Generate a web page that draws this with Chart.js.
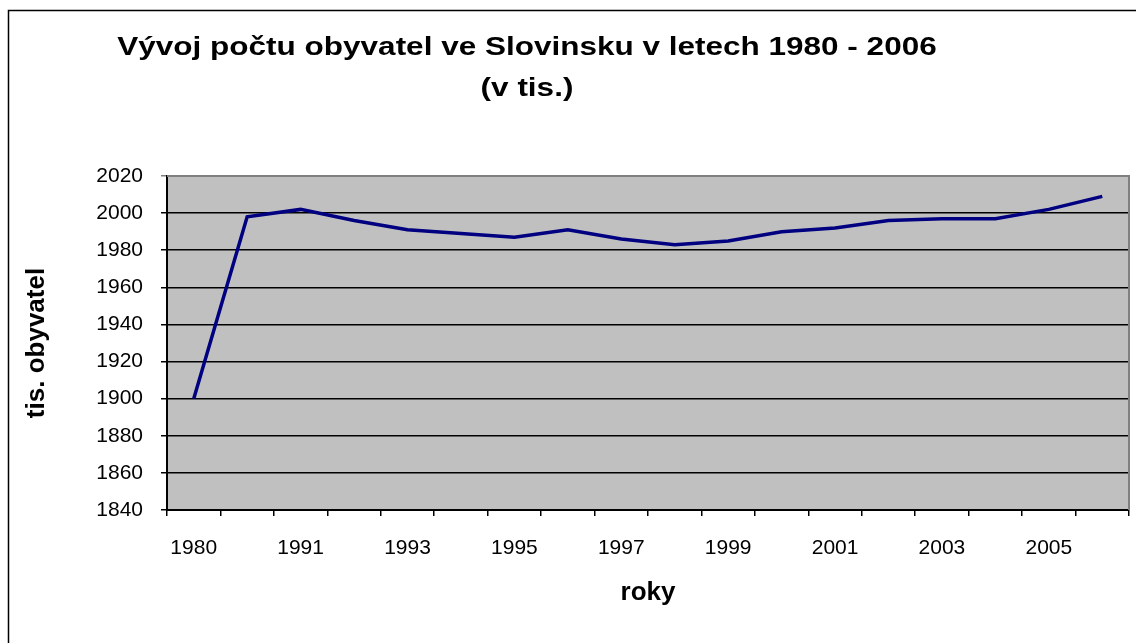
<!DOCTYPE html>
<html>
<head>
<meta charset="utf-8">
<script src="https://cdn.jsdelivr.net/npm/chart.js@4/dist/chart.umd.min.js"></script>
<style>
  html, body { margin: 0; padding: 0; background: #fff; }
  #wrap { width: 1136px; height: 643px; position: relative; }
</style>
</head>
<body>
<div id="wrap"><canvas id="lineChart"></canvas></div>
<script>
// Data
const years = ['1980', '1990', '1991', '1992', '1993', '1994', '1995', '1996', '1997',
               '1998', '1999', '2000', '2001', '2002', '2003', '2004', '2005', '2006'];
const population = [1900, 1998, 2002, 1996, 1991, 1989, 1987, 1991, 1986,
                    1983, 1985, 1990, 1992, 1996, 1997, 1997, 2002, 2009];
const titleLines = ['Vývoj počtu obyvatel ve Slovinsku v letech 1980 - 2006', '(v tis.)'];

const FONT = 'Arial, "Liberation Sans", sans-serif';

// Grey plot area, border, frame and title
const decor = {
    id: 'decor',
    beforeDraw(chart) {
        const { ctx, chartArea: a } = chart;
        ctx.save();
        ctx.fillStyle = '#fff';
        ctx.fillRect(0, 0, chart.width, chart.height);
        ctx.fillStyle = '#C0C0C0';
        ctx.fillRect(a.left, a.top, a.right - a.left, a.bottom - a.top);
        ctx.restore();
    },
    afterDraw(chart) {
        const { ctx, chartArea: a } = chart;
        ctx.save();
        // plot border top/right
        ctx.strokeStyle = '#808080';
        ctx.lineWidth = 2;
        ctx.beginPath();
        ctx.moveTo(a.left, a.top);
        ctx.lineTo(a.right, a.top);
        ctx.lineTo(a.right, a.bottom);
        ctx.stroke();
        // outer frame
        ctx.strokeStyle = '#000';
        ctx.lineWidth = 1.5;
        ctx.strokeRect(8.5, 10.5, 1140, 650);
        // title (the original is drawn a bit wide)
        ctx.fillStyle = '#000';
        ctx.font = 'bold 25px ' + FONT;
        ctx.textAlign = 'center';
        ctx.textBaseline = 'alphabetic';
        const baselines = [55, 96];
        titleLines.forEach((line, i) => {
            ctx.save();
            ctx.translate(527, baselines[i]);
            ctx.scale(1.26, 1);
            ctx.fillText(line, 0, 0);
            ctx.restore();
        });
        ctx.restore();
    }
};

const ctx = document.getElementById('lineChart').getContext('2d');
const lineChart = new Chart(ctx, {
    type: 'line',
    data: {
        labels: years,
        datasets: [{
            label: 'tis. obyvatel',
            data: population,
            borderColor: '#000080',
            borderWidth: 3.5,
            pointRadius: 0,
            tension: 0,
            fill: false
        }]
    },
    options: {
        responsive: true,
        maintainAspectRatio: false,
        animation: false,
        layout: { padding: { top: 176, right: 7, bottom: 0, left: 0 } },
        plugins: {
            legend: { display: false },
            title: { display: false },
            tooltip: { enabled: false }
        },
        scales: {
            x: {
                offset: true,
                afterFit: s => { s.height = 133; },
                grid: {
                    offset: true,
                    drawOnChartArea: false,
                    drawTicks: true,
                    tickLength: 6,
                    color: '#000',
                    lineWidth: 1.5
                },
                border: { display: true, color: '#000', width: 2 },
                ticks: {
                    autoSkip: false,
                    maxRotation: 0,
                    padding: 20,
                    color: '#000',
                    font: { family: FONT, size: 21 },
                    callback: function(value, index) {
                        return index % 2 === 0 ? this.getLabelForValue(value) : '';
                    }
                },
                title: {
                    display: true,
                    text: 'roky',
                    color: '#000',
                    font: { family: FONT, size: 26, weight: 'bold' },
                    padding: { top: 0, bottom: 35 }
                }
            },
            y: {
                min: 1840,
                max: 2020,
                afterFit: s => { s.width = 167; },
                ticks: {
                    stepSize: 20,
                    padding: 18,
                    color: '#000',
                    font: { family: FONT, size: 21 },
                    callback: v => String(v)
                },
                grid: {
                    color: ctx => ctx.tick && ctx.tick.value === 2020 ? '#808080' : '#000',
                    lineWidth: 1.5,
                    tickLength: 6,
                    drawTicks: true
                },
                border: { display: true, color: '#000', width: 2 },
                title: {
                    display: true,
                    text: 'tis. obyvatel',
                    color: '#000',
                    font: { family: FONT, size: 26, weight: 'bold' },
                    padding: { top: 21, bottom: 0 }
                }
            }
        }
    },
    plugins: [decor]
});
</script>
</body>
</html>
